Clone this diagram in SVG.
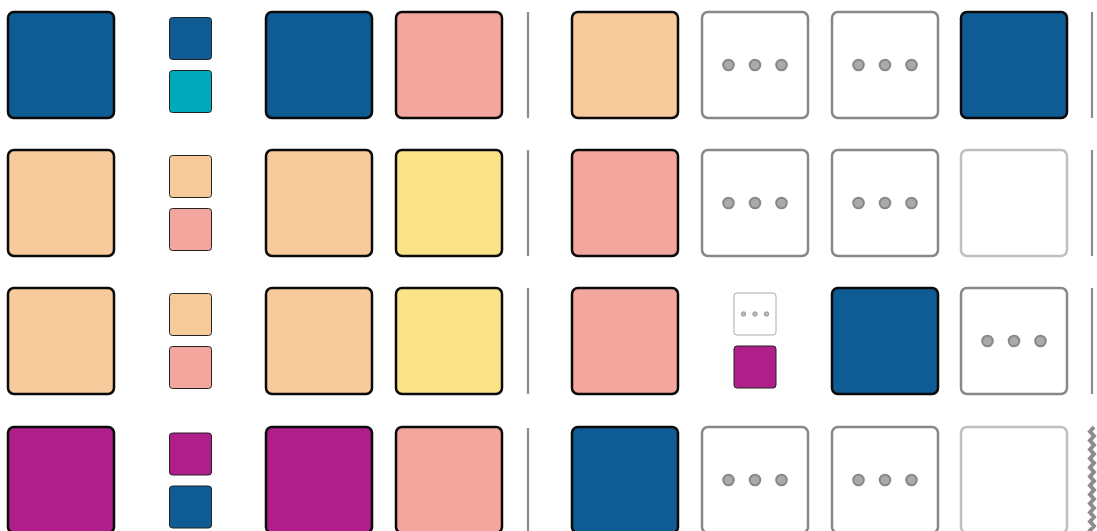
<svg xmlns="http://www.w3.org/2000/svg" width="1097" height="531" viewBox="0 0 1097 531">
<style>
.big{stroke:#0a0a0a;stroke-width:2.5}
.sm{stroke:#222;stroke-width:1}
.blue{fill:#0f5b94}.teal{fill:#00a9bc}.peach{fill:#f7ca9c}.salmon{fill:#f2a69e}.yellow{fill:#fbe38a}.mag{fill:#b01e8a}
.gbox{fill:#fff;stroke:#888;stroke-width:2.5}
.lbox{fill:#fff;stroke:#c0c0c0;stroke-width:2.5}
.sbox{fill:#fff;stroke:#aaa;stroke-width:1}
.dot{fill:#aaa;stroke:#888;stroke-width:2}
.sdot{fill:#bbb;stroke:#999;stroke-width:1}
.div{stroke:#8c8c8c;stroke-width:2.2;fill:none}
</style>
<defs>
<g id="dots"><circle cx="-26.5" cy="0" r="5.3" class="dot"/><circle cx="0" cy="0" r="5.3" class="dot"/><circle cx="26.5" cy="0" r="5.3" class="dot"/></g>
</defs>

<g id="row1">
<g id="r1c0"><rect x="8" y="12" width="106" height="106" rx="6" class="big blue"/></g>
<g id="r1c1"><rect x="169.5" y="17.5" width="42" height="42" rx="3" class="sm blue"/><rect x="169.5" y="70.5" width="42" height="42" rx="3" class="sm teal"/></g>
<g id="r1c2"><rect x="266" y="12" width="106" height="106" rx="6" class="big blue"/></g>
<g id="r1c3"><rect x="396" y="12" width="106" height="106" rx="6" class="big salmon"/></g>
<g id="r1c4"><rect x="572" y="12" width="106" height="106" rx="6" class="big peach"/></g>
<g id="r1c5"><rect x="702" y="12" width="106" height="106" rx="6" class="gbox"/><use href="#dots" x="755" y="65"/></g>
<g id="r1c6"><rect x="832" y="12" width="106" height="106" rx="6" class="gbox"/><use href="#dots" x="885" y="65"/></g>
<g id="r1c7"><rect x="961" y="12" width="106" height="106" rx="6" class="big blue"/></g>
</g>

<g id="row2">
<g id="r2c0"><rect x="8" y="150" width="106" height="106" rx="6" class="big peach"/></g>
<g id="r2c1"><rect x="169.5" y="155.5" width="42" height="42" rx="3" class="sm peach"/><rect x="169.5" y="208.5" width="42" height="42" rx="3" class="sm salmon"/></g>
<g id="r2c2"><rect x="266" y="150" width="106" height="106" rx="6" class="big peach"/></g>
<g id="r2c3"><rect x="396" y="150" width="106" height="106" rx="6" class="big yellow"/></g>
<g id="r2c4"><rect x="572" y="150" width="106" height="106" rx="6" class="big salmon"/></g>
<g id="r2c5"><rect x="702" y="150" width="106" height="106" rx="6" class="gbox"/><use href="#dots" x="755" y="203"/></g>
<g id="r2c6"><rect x="832" y="150" width="106" height="106" rx="6" class="gbox"/><use href="#dots" x="885" y="203"/></g>
<g id="r2c7"><rect x="961" y="150" width="106" height="106" rx="6" class="lbox"/></g>
</g>

<g id="row3">
<g id="r3c0"><rect x="8" y="288" width="106" height="106" rx="6" class="big peach"/></g>
<g id="r3c1"><rect x="169.5" y="293.5" width="42" height="42" rx="3" class="sm peach"/><rect x="169.5" y="346.5" width="42" height="42" rx="3" class="sm salmon"/></g>
<g id="r3c2"><rect x="266" y="288" width="106" height="106" rx="6" class="big peach"/></g>
<g id="r3c3"><rect x="396" y="288" width="106" height="106" rx="6" class="big yellow"/></g>
<g id="r3c4"><rect x="572" y="288" width="106" height="106" rx="6" class="big salmon"/></g>
<g id="r3c5"><rect x="734" y="293" width="42" height="42" rx="3" class="sbox"/><circle cx="743.5" cy="314" r="2.2" class="sdot"/><circle cx="755" cy="314" r="2.2" class="sdot"/><circle cx="766.5" cy="314" r="2.2" class="sdot"/><rect x="734" y="346" width="42" height="42" rx="3" class="sm mag"/></g>
<g id="r3c6"><rect x="832" y="288" width="106" height="106" rx="6" class="big blue"/></g>
<g id="r3c7"><rect x="961" y="288" width="106" height="106" rx="6" class="gbox"/><use href="#dots" x="1014" y="341"/></g>
</g>

<g id="row4">
<g id="r4c0"><rect x="8" y="427" width="106" height="106" rx="6" class="big mag"/></g>
<g id="r4c1"><rect x="169.5" y="433" width="42" height="42" rx="3" class="sm mag"/><rect x="169.5" y="486" width="42" height="42" rx="3" class="sm blue"/></g>
<g id="r4c2"><rect x="266" y="427" width="106" height="106" rx="6" class="big mag"/></g>
<g id="r4c3"><rect x="396" y="427" width="106" height="106" rx="6" class="big salmon"/></g>
<g id="r4c4"><rect x="572" y="427" width="106" height="106" rx="6" class="big blue"/></g>
<g id="r4c5"><rect x="702" y="427" width="106" height="106" rx="6" class="gbox"/><use href="#dots" x="755" y="480"/></g>
<g id="r4c6"><rect x="832" y="427" width="106" height="106" rx="6" class="gbox"/><use href="#dots" x="885" y="480"/></g>
<g id="r4c7"><rect x="961" y="427" width="106" height="106" rx="6" class="lbox"/></g>
</g>

<g id="connectors">
<line x1="528" y1="12" x2="528" y2="118" class="div"/>
<line x1="528" y1="150" x2="528" y2="256" class="div"/>
<line x1="528" y1="288" x2="528" y2="394" class="div"/>
<line x1="528" y1="428" x2="528" y2="531" class="div"/>
<line x1="1092" y1="12" x2="1092" y2="118" class="div"/>
<line x1="1092" y1="150" x2="1092" y2="256" class="div"/>
<line x1="1092" y1="288" x2="1092" y2="394" class="div"/>
<polyline points="1094,427 1090,431.5 1094,436 1090,440.5 1094,445 1090,449.5 1094,454 1090,458.5 1094,463 1090,467.5 1094,472 1090,476.5 1094,481 1090,485.5 1094,490 1090,494.5 1094,499 1090,503.5 1094,508 1090,512.5 1094,517 1090,521.5 1094,526 1090,530.5 1094,535" fill="none" stroke="#8c8c8c" stroke-width="4" stroke-linejoin="miter"/>
</g>
</svg>
